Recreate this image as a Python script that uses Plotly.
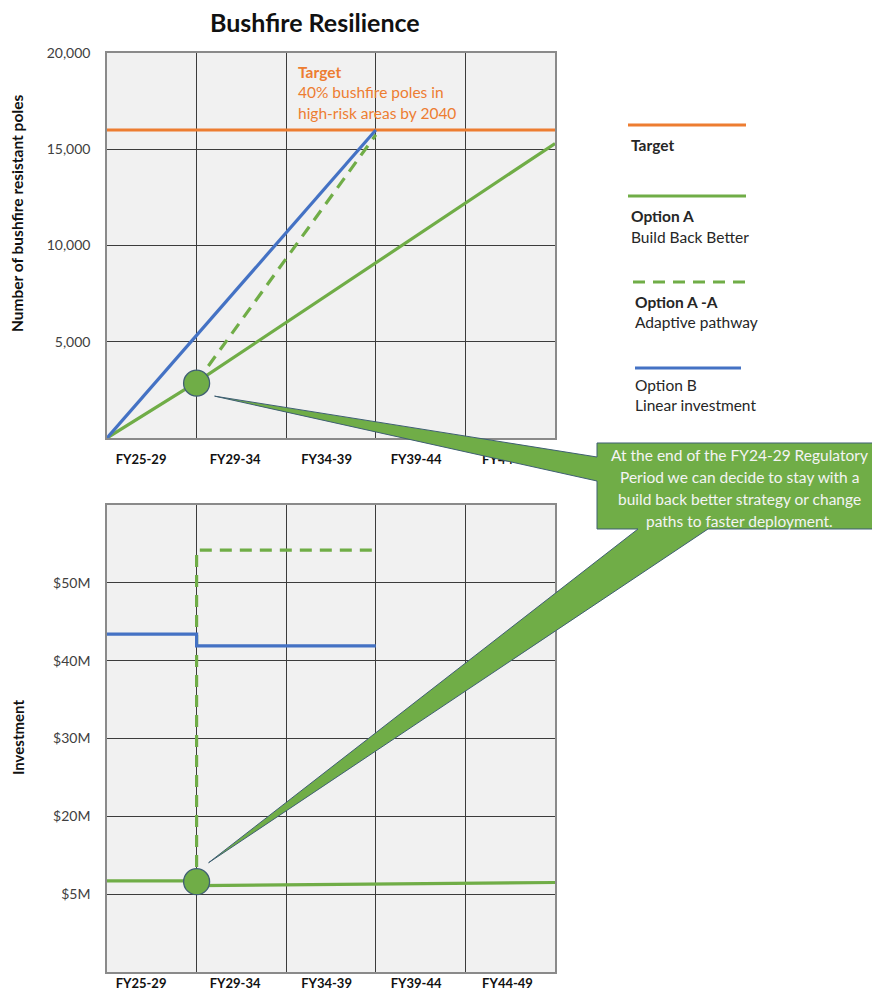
import plotly.graph_objects as go

# ---- data -------------------------------------------------------------
periods = ["FY25-29", "FY29-34", "FY34-39", "FY39-44", "FY44-49"]
period_pos = [0.38, 1.43, 2.45, 3.45, 4.47]      # label positions on a 0-5 axis
period_edges = [1, 2, 3, 4]                      # boundaries between periods

# poles (count)
target_x = [0, 5]
target_poles = [16000, 16000]
optA_x = [0, 1, 5]
optA_poles = [0, 2900, 15300]
optAA_x = [1, 3]
optAA_poles = [2900, 15750]
optB_x = [0, 3]
optB_poles = [0, 16000]
decision_x = 1
decision_poles = 2850

pole_ticks = [5000, 10000, 15000, 20000]
pole_ticktext = ["5,000", "10,000", "15,000", "20,000"]

# investment (axis units)
optA_inv_x = [0, 1, 1, 5]
optA_inv = [11.7, 11.7, 11.1, 11.5]
optAA_inv_x = [1, 1, 3]
optAA_inv = [13.5, 54.2, 54.2]
optB_inv_x = [0, 1, 1, 3]
optB_inv = [43.4, 43.4, 41.9, 41.9]
decision_inv = 11.6

inv_ticks = [10, 20, 30, 40, 50]
inv_ticktext = ["$5M", "$20M", "$30M", "$40M", "$50M"]

# ---- styling ----------------------------------------------------------
ORANGE = "#ED7D31"
GREEN = "#70AD47"
BLUE = "#4472C4"
GRID = "#3c3c3c"
FRAME = "#8a8a8a"
FONT = "Lato"
W, H = 872, 992
L, R, T, B = 107, 555, 53, 972          # plotting region in pixels
TOP_BOTTOM = 438
BOT_TOP = 505


def P(px, py):
    """pixel -> paper coordinates"""
    return (px - L) / (R - L), (B - py) / (B - T)


def data_px_top(x, y):
    return L + x / 5 * (R - L), TOP_BOTTOM - y / 20000 * (TOP_BOTTOM - T)


def data_px_bot(x, y):
    return L + x / 5 * (R - L), B - y / 60 * (B - BOT_TOP)


fig = go.Figure()

line_w = 3.2
dash = "12px,8px"

# top panel
fig.add_trace(go.Scatter(x=target_x, y=target_poles, mode="lines",
                         line=dict(color=ORANGE, width=line_w), xaxis="x", yaxis="y"))
fig.add_trace(go.Scatter(x=optA_x, y=optA_poles, mode="lines",
                         line=dict(color=GREEN, width=line_w), xaxis="x", yaxis="y"))
fig.add_trace(go.Scatter(x=optAA_x, y=optAA_poles, mode="lines",
                         line=dict(color=GREEN, width=line_w, dash=dash), xaxis="x", yaxis="y"))
fig.add_trace(go.Scatter(x=optB_x, y=optB_poles, mode="lines",
                         line=dict(color=BLUE, width=line_w), xaxis="x", yaxis="y"))
fig.add_trace(go.Scatter(x=[decision_x], y=[decision_poles], mode="markers",
                         marker=dict(size=26, color=GREEN, line=dict(color="#3f5f73", width=1.3)),
                         xaxis="x", yaxis="y"))

# bottom panel
fig.add_trace(go.Scatter(x=optAA_inv_x, y=optAA_inv, mode="lines",
                         line=dict(color=GREEN, width=line_w, dash=dash), xaxis="x2", yaxis="y2"))
fig.add_trace(go.Scatter(x=optB_inv_x, y=optB_inv, mode="lines",
                         line=dict(color=BLUE, width=line_w), xaxis="x2", yaxis="y2"))
fig.add_trace(go.Scatter(x=optA_inv_x, y=optA_inv, mode="lines",
                         line=dict(color=GREEN, width=line_w), xaxis="x2", yaxis="y2"))
fig.add_trace(go.Scatter(x=[decision_x], y=[decision_inv], mode="markers",
                         marker=dict(size=26, color=GREEN, line=dict(color="#3f5f73", width=1.3)),
                         xaxis="x2", yaxis="y2"))

top_dom = [(B - TOP_BOTTOM) / (B - T), 1.0]
bot_dom = [0.0, (B - BOT_TOP) / (B - T)]

xcommon = dict(range=[0, 5], tickmode="array", tickvals=period_pos, ticktext=periods,
               showgrid=False, zeroline=False, showline=True, mirror=True,
               linecolor=FRAME, linewidth=1.5, ticks="", automargin=False,
               tickfont=dict(family=FONT, size=13, color="#111111", weight="bold"),
               minor=dict(tickmode="array", tickvals=period_edges, showgrid=True,
                          gridcolor=GRID, gridwidth=1.2, ticks=""))
ycommon = dict(showgrid=True, gridcolor=GRID, gridwidth=1.2, zeroline=False,
               showline=True, mirror=True, linecolor=FRAME, linewidth=1.5, ticks="",
               automargin=False,
               tickfont=dict(family=FONT, size=14, color="#404040"), ticklabelstandoff=12)

fig.update_layout(
    width=W, height=H,
    margin=dict(l=L, r=W - R, t=T, b=H - B),
    paper_bgcolor="white", plot_bgcolor="#F1F1F1",
    showlegend=False,
    font=dict(family=FONT, color="#262626"),
    xaxis=dict(**xcommon, domain=[0, 1], anchor="y", ticklabelstandoff=9),
    yaxis=dict(**ycommon, domain=top_dom, anchor="x", range=[0, 20000],
               tickmode="array", tickvals=pole_ticks, ticktext=pole_ticktext),
    xaxis2=dict(**xcommon, domain=[0, 1], anchor="y2", ticklabelstandoff=-1),
    yaxis2=dict(**ycommon, domain=bot_dom, anchor="x2", range=[0, 60],
                tickmode="array", tickvals=inv_ticks, ticktext=inv_ticktext),
)

ann = []


def text(px, py, s, size=15.5, color="#262626", bold=False, xanchor="left", angle=0):
    x, y = P(px, py)
    ann.append(dict(x=x, y=y, xref="paper", yref="paper", text=s, showarrow=False,
                    xanchor=xanchor, yanchor="middle", textangle=angle,
                    font=dict(family=FONT, size=size, color=color,
                              weight="bold" if bold else "normal")))


# title and axis titles
text(315, 22, "Bushfire Resilience", size=25, color="#111111", bold=True, xanchor="center")
text(17, 214, "Number of bushfire resistant poles", size=15.5, color="#111111", bold=True,
     xanchor="center", angle=-90)
text(18, 738, "Investment", size=15, color="#111111", bold=True, xanchor="center", angle=-90)

# target note
text(296, 72, "Target", color=ORANGE, bold=True)
text(296, 92, "40% bushfire poles in", color=ORANGE)
text(296, 113, "high-risk areas by 2040", color=ORANGE)

# legend
shapes = []


def seg(x0, x1, py, color, dash_style=None):
    a0, b0 = P(x0, py)
    a1, _ = P(x1, py)
    shapes.append(dict(type="line", xref="paper", yref="paper", x0=a0, x1=a1, y0=b0, y1=b0,
                       line=dict(color=color, width=3.2, dash=dash_style)))


seg(628, 746, 125, ORANGE)
text(629, 145, "Target", bold=True)
seg(628, 746, 196, GREEN)
text(629, 216, "Option A", bold=True)
text(629, 237, "Build Back Better")
seg(633, 752, 282, GREEN, "12px,8px")
text(633, 302, "Option A -A", bold=True)
text(633, 322, "Adaptive pathway")
seg(635, 741, 368, BLUE)
text(633, 385, "Option B")
text(633, 405, "Linear investment")

# callout pointing at the decision point in both panels
cx, cy = data_px_top(decision_x, decision_poles)
tip1 = (cx + 18, cy + 13)
dx, dy = data_px_bot(decision_x, decision_inv)
tip2 = (dx + 12, dy - 19)
box_l, box_t, box_r, box_b = 597, 443, 885, 529
pts = [(box_l, box_t), (box_r, box_t), (box_r, box_b), (708, box_b), tip2,
       (638, box_b), (box_l, box_b), (box_l, 481), tip1, (box_l, 457)]
path = ""
for i, (px, py) in enumerate(pts):
    x, y = P(px, py)
    path += ("M" if i == 0 else "L") + f"{x:.5f},{y:.5f} "
path += "Z"
shapes.append(dict(type="path", xref="paper", yref="paper", path=path,
                   fillcolor=GREEN, line=dict(color="#3f5f73", width=1), layer="above"))

for py, s in zip([455, 477, 499, 521],
                 ["At the end of the FY24-29 Regulatory",
                  "Period we can decide to stay with a",
                  "build back better strategy or change",
                  "paths to faster deployment."]):
    text(739, py, s, size=15.5, color="#F4F4F4", xanchor="center")

fig.update_layout(annotations=ann, shapes=shapes)
fig.write_html("out.html")
